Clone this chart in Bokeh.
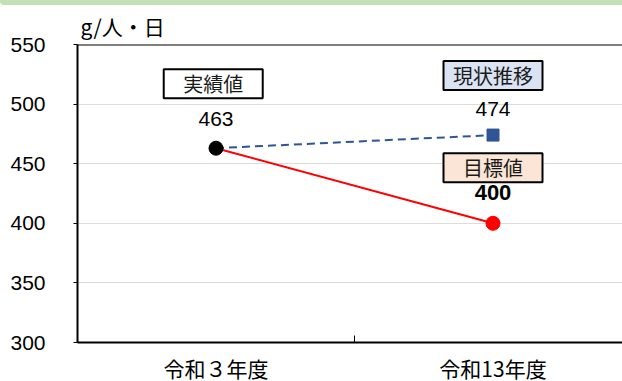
from bokeh.plotting import figure
from bokeh.models import Range1d, FixedTicker, Label, Span, Div, ColumnDataSource
from bokeh.layouts import column
from bokeh.embed import file_html
from bokeh.resources import INLINE

# --- data -------------------------------------------------------------
categories = ["令和３年度", "令和13年度"]
actual_value = [463]            # 令和３年度 実績値
trend_values = [463, 474]       # 現状推移
target_values = [463, 400]      # 目標値
y_ticks = [300, 350, 400, 450, 500, 550]
unit_label = "g/人・日"

# --- layout constants -------------------------------------------------
W = 622
STRIP_H = 5
LEFT, TOP = 77, 39
FRAME_W = W - LEFT
FRAME_H = 298
BAND_PX = 277                      # width of one category band
Y0, Y1 = 300, 550
PPU = FRAME_H / (Y1 - Y0)          # pixels per y unit

JP = "Noto Sans CJK JP"
NUM = "Liberation Sans"

x_pos = [i + 0.5 for i in range(len(categories))]

p = figure(frame_width=FRAME_W, frame_height=FRAME_H,
           output_backend="svg", toolbar_location=None,
           x_range=Range1d(0, FRAME_W / BAND_PX), y_range=Range1d(Y0, Y1),
           min_border_left=LEFT, min_border_right=0,
           min_border_top=TOP, min_border_bottom=0)
p.outline_line_color = None
p.background_fill_color = "white"
p.border_fill_color = "white"

# unit label above the plot area
p.title.text = unit_label
p.title.align = "left"
p.title.offset = 3
p.title.standoff = 7
p.title.text_font = JP
p.title.text_font_size = "21px"
p.title.text_font_style = "normal"
p.title.text_color = "black"

# axes
p.xaxis.ticker = FixedTicker(ticks=x_pos, minor_ticks=[1.0])
p.xaxis.major_label_overrides = {x: c for x, c in zip(x_pos, categories)}
p.xaxis.major_tick_line_color = None
p.xaxis.minor_tick_in = 7
p.xaxis.minor_tick_out = 0
p.xaxis.minor_tick_line_color = "black"
p.xaxis.axis_line_width = 2
p.xaxis.axis_line_color = "black"
p.xaxis.major_label_text_font = JP
p.xaxis.major_label_text_font_size = "21px"
p.xaxis.major_label_text_color = "black"
p.xaxis.major_label_standoff = 4

p.yaxis.ticker = FixedTicker(ticks=y_ticks)
p.yaxis.minor_tick_line_color = None
p.yaxis.major_tick_in = 0
p.yaxis.major_tick_out = 4
p.yaxis.major_tick_line_color = "black"
p.yaxis.axis_line_width = 2
p.yaxis.axis_line_color = "black"
p.yaxis.major_label_text_font = NUM
p.yaxis.major_label_text_font_size = "21px"
p.yaxis.major_label_text_color = "black"
p.yaxis.major_label_standoff = 28

p.xgrid.grid_line_color = None
p.ygrid.ticker = FixedTicker(ticks=y_ticks[1:-1])
p.ygrid.grid_line_color = "#dcdcdc"
p.ygrid.grid_line_width = 1

# top border of the plot area
p.add_layout(Span(location=Y1, dimension="width", line_color="black", line_width=2))

# lines
p.line(x_pos, trend_values, line_color="#2f5597", line_width=2, line_dash="8 5")
p.line(x_pos, target_values, line_color="#ff0000", line_width=2)

# markers
p.scatter([x_pos[1]], [trend_values[1]], marker="square", size=12,
          fill_color="#2f5597", line_color="#2f5597")
p.scatter([x_pos[1]], [target_values[1]], marker="circle", size=14,
          fill_color="#ff0000", line_color="#ff0000")
p.scatter([x_pos[0]], actual_value, marker="circle", size=14,
          fill_color="black", line_color="black")

# value labels
def value_label(x, y, off, size="21px", bold=False):
    p.add_layout(Label(x=x, y=y, y_offset=off, text=str(y), text_align="center",
                       text_baseline="middle", text_font=NUM, text_font_size=size,
                       text_color="black",
                       text_font_style="bold" if bold else "normal"))

value_label(x_pos[0], actual_value[0], 29)
value_label(x_pos[1], trend_values[1], 26)
value_label(x_pos[1], target_values[1], 31, size="22px", bold=True)

# series name boxes, floated a fixed pixel distance above each point
boxes = ColumnDataSource(dict(
    x=[x_pos[0] - 0.01, x_pos[1], x_pos[1]],
    y=[actual_value[0] + 64.5 / PPU, trend_values[1] + 59.5 / PPU,
       target_values[1] + 55.5 / PPU],
    name=["実績値", "現状推移", "目標値"],
    fill=["white", "#dae3f3", "#fbe5d6"],
))
p.rect(x="x", y="y", width=99, height=29, width_units="screen", height_units="screen",
       fill_color="fill", line_color="black", line_width=2, source=boxes)
p.text(x="x", y="y", text="name", text_align="center", text_baseline="middle",
       text_font={"value": JP}, text_font_size={"value": "20px"},
       text_color={"value": "#1a1a1a"}, source=boxes)

strip = Div(text="", width=W, height=STRIP_H, margin=0,
            styles={"background-color": "#c5e0b4", "border-bottom-left-radius": "4px"})

layout = column(strip, p, spacing=0, margin=0)
html = file_html(layout, INLINE)
html = html.replace("</head>", "<style>html, body { margin: 0; overflow: hidden; }</style></head>", 1)
open("out.html", "w").write(html)
